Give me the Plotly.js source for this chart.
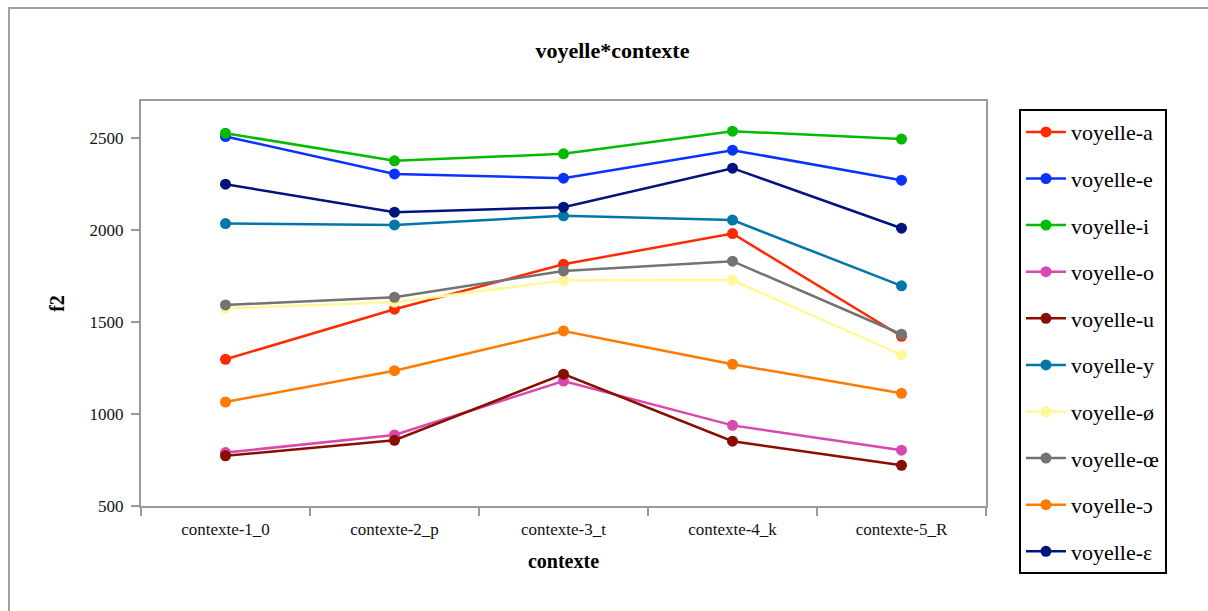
<!DOCTYPE html>
<html><head><meta charset="utf-8">
<script src="https://cdn.plot.ly/plotly-3.0.1.min.js"></script>
<style>body{margin:0;padding:0;background:#fff}#chart{width:1208px;height:611px}</style>
</head><body><div id="chart"></div>
<script>
const categories = ['contexte-1_0','contexte-2_p','contexte-3_t','contexte-4_k','contexte-5_R'];
const seriesNames = ['voyelle-a','voyelle-e','voyelle-i','voyelle-o','voyelle-u','voyelle-y','voyelle-ø','voyelle-œ','voyelle-ɔ','voyelle-ɛ'];
const vA  = [1297, 1569, 1813, 1980, 1422];
const vE  = [2507, 2304, 2281, 2433, 2270];
const vI  = [2525, 2375, 2413, 2536, 2493];
const vO  = [790, 886, 1179, 938, 803];
const vU  = [773, 857, 1216, 852, 721];
const vY  = [2034, 2027, 2076, 2053, 1696];
const vOE = [1574, 1607, 1725, 1727, 1321];
const vOE2= [1592, 1634, 1777, 1830, 1433];
const vOO = [1065, 1235, 1451, 1270, 1112];
const vEE = [2248, 2096, 2123, 2335, 2009];
const seriesValues = [vA, vE, vI, vO, vU, vY, vOE, vOE2, vOO, vEE];
const colors = ['#FF2A00','#0A32FF','#00BB00','#D848AE','#8A0E00','#0077A6','#FFF89A','#737373','#FF7A00','#00137F'];

const serif = 'Liberation Serif, DejaVu Serif, serif';
const traces = seriesNames.map((n,i)=>({
  type:'scatter', mode:'lines+markers', name:n, x:categories, y:seriesValues[i],
  legendgroup:'g'+i,
  line:{color:colors[i], width:2.5},
  marker:{color:colors[i], size:11}
}));

const layout = {
  width:1208, height:611,
  margin:{l:141, r:222, t:101, b:105},
  paper_bgcolor:'#fff', plot_bgcolor:'#fff',
  showlegend:true,
  title:{text:'<b>voyelle*contexte</b>', font:{family:serif, size:22, color:'#000'}, x:0.507, xref:'container', y:0.918, yref:'container', yanchor:'middle'},
  xaxis:{
    type:'category', range:[-0.5,4.5], showgrid:false, showline:true, linecolor:'#9a9a9a', linewidth:2, mirror:true,
    ticks:'outside', tickson:'boundaries', ticklen:8, tickcolor:'#9a9a9a', tickwidth:2,
    ticklabelstandoff:7,
    tickfont:{family:serif, size:17, color:'#111'},
    title:{text:'<b>contexte</b>', font:{family:serif, size:20, color:'#000'}, standoff:16},
    fixedrange:true
  },
  yaxis:{
    range:[500,2700], dtick:500, tick0:500, showgrid:false, zeroline:false,
    showline:true, linecolor:'#9a9a9a', linewidth:2, mirror:true,
    ticks:'outside', ticklen:8, tickcolor:'#9a9a9a', tickwidth:2,
    ticklabelstandoff:4,
    tickfont:{family:serif, size:17, color:'#111'},
    title:{text:'<b>f2</b>', font:{family:serif, size:20, color:'#000'}, standoff:20}
  },
  legend:{
    x:1.039, xanchor:'left', y:0.98, yanchor:'top',
    bordercolor:'#000', borderwidth:2, bgcolor:'#fff',
    font:{family:serif, size:22, color:'#000'},
    tracegroupgap:15, traceorder:'grouped', itemwidth:40, maxheight:600
  },
  shapes:[{type:'rect', xref:'paper', yref:'paper', x0:-0.1562, x1:1.3, y0:-0.3, y1:1.2296,
    line:{color:'#a0a0a0', width:2}, fillcolor:'rgba(0,0,0,0)', layer:'below'}]
};
Plotly.newPlot('chart', traces, layout, {displayModeBar:false, staticPlot:true});
</script></body></html>
